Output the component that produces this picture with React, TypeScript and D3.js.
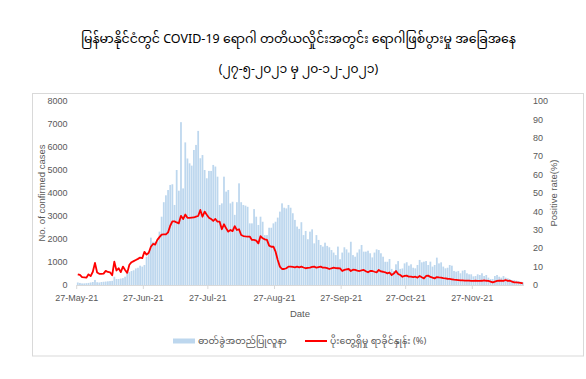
import React from "react";
import * as d3 from "d3";

const titleLine1 = "မြန်မာနိုင်ငံတွင် COVID-19 ရောဂါ တတိယလှိုင်းအတွင်း ရောဂါဖြစ်ပွားမှု အခြေအနေ";
const titleLine2 = "(၂၇-၅-၂၀၂၁ မှ ၂၀-၁၂-၂၀၂၁)";
const seriesNames = ["ဓာတ်ခွဲအတည်ပြုလူနာ", "ပိုးတွေ့ရှိမှု ရာခိုင်နှုန်း (%)"];
const leftAxisTitle = "No. of confirmed cases";
const rightAxisTitle = "Positive rate(%)";
const xAxisTitle = "Date";

const leftTicks = [0, 1000, 2000, 3000, 4000, 5000, 6000, 7000, 8000];
const rightTicks = [0, 10, 20, 30, 40, 50, 60, 70, 80, 90, 100];
const xTickLabels = ["27-May-21", "27-Jun-21", "27-Jul-21", "27-Aug-21", "27-Sep-21", "27-Oct-21", "27-Nov-21"];
const xTickMonths = [4, 5, 6, 7, 8, 9, 10];

const startDay = [2021, 4, 27];
const endDay = [2021, 11, 21];

// daily confirmed cases, 27 May 2021 .. 20 Dec 2021
const cases = [
  110, 90, 70, 70, 80, 90, 110, 130, 220, 120, 110, 130, 140, 150, 160, 170, 180, 360, 260, 260,
  280, 300, 360, 550, 560, 610, 640, 720, 750, 840, 800, 870,
  1230, 1450, 2060, 1880, 1880, 1900, 2320, 2970, 3600, 3900, 4130, 4350, 4380, 3480, 5000, 4100, 7080, 4200, 6200,
  5500, 5290, 5190, 5870, 6090, 6700, 5510, 5650, 5000, 4640, 4960, 4960, 5220, 5150, 4710, 3480, 3550, 4710, 4060, 4130,
  3550, 3620, 3050, 3600, 4420, 3600, 3480, 3450, 3400, 2680, 2680, 3300, 2970, 2610, 2970, 2750, 2170, 2170, 2490, 2490,
  2680, 2750, 2930, 3190, 3550, 3360, 3330, 3480, 3360, 3120, 2830, 2540, 2440, 2730,
  2170, 2350, 1990, 2320, 2420, 1810, 2170, 1960, 1740, 1670, 1840, 1700, 1640, 1520, 1410, 1300, 1670, 1120, 1410, 1640,
  1550, 1410, 1880, 1300, 1230, 1410, 1550, 1740, 1450, 1450, 1490, 1380, 1200, 1410, 1550, 1520, 1380, 1230, 1010, 1010, 1130,
  700, 610, 900, 1040, 700, 720, 940, 990, 840, 900,
  750, 725, 870, 1090, 985, 1015, 1040, 870, 1015, 800, 870, 1190, 940, 985, 800, 725, 750, 870, 840, 610,
  580, 610, 510, 625, 650, 510, 465, 465, 375, 390, 465, 435, 510, 390, 435, 320, 260, 260, 390, 435,
  360, 320, 390, 320, 290, 250, 215, 215, 190, 175, 145, 115,
];

// positive rate (%)
const positiveRate = [
  5.8, 5.5, 4.3, 4.2, 4.0, 5.8, 4.8, 7.2, 12.0, 6.8, 6.1, 6.1, 6.2, 7.7, 7.1, 6.9, 5.3, 12.7, 7.9, 9.1,
  7.0, 10.0, 8.2, 6.6, 11.0, 12.4, 13.0, 13.6, 14.2, 14.9, 14.6, 18.0, 16.5, 17.5, 20.8, 22.3, 22.0, 24.5, 26.0, 27.4,
  27.5, 27.5, 28.6, 32.2, 34.6, 34.6, 34.0, 33.5, 37.6, 35.8, 38.3, 36.5, 36.5, 36.6, 36.7, 37.2, 37.5, 40.8, 37.1, 39.9,
  38.2, 36.6, 35.9, 34.8, 35.9, 34.4, 34.4, 30.3, 33.0, 30.8, 29.0, 29.9, 29.3, 32.0, 29.9, 30.3, 27.2, 26.6, 26.4, 26.3,
  26.3, 24.5, 24.5, 24.1, 22.6, 26.6, 25.4, 24.8, 24.5, 21.4, 20.8, 20.8, 18.1, 13.6, 10.0, 8.7, 8.7, 9.1, 10.0, 10.0,
  9.8, 9.6, 10.0, 9.6, 10.0,
  9.5, 9.1, 9.3, 9.4, 9.8, 10.0, 9.4, 9.7, 10.0, 9.4,
  9.4, 9.2, 8.7, 9.1, 9.4, 9.2, 9.1, 9.0, 7.6, 8.2,
  8.5, 8.7, 7.6, 8.3, 8.2, 7.8, 7.6, 8.0, 8.2, 7.5,
  6.9, 7.6, 7.6, 7.2, 6.9, 8.2, 7.4, 7.2, 6.9, 6.3,
  6.8, 5.4, 6.2, 7.6, 6.0, 5.4, 4.5, 5.0, 5.1, 4.5,
  4.5, 4.3, 4.5, 4.0, 4.9, 4.2, 3.6, 4.9, 5.1, 4.4,
  4.0, 3.6, 4.3, 4.1, 4.0, 3.7, 3.6, 3.4, 3.3, 3.1,
  2.9, 2.8, 2.7, 2.5, 2.5, 2.4, 2.4, 2.4, 2.2, 2.2,
  2.3, 2.2, 2.2, 2.3, 2.5, 2.3, 2.2, 1.8, 1.4, 1.8,
  2.2, 2.4, 2.3, 2.2, 2.7, 2.2, 2.3, 1.8, 1.4, 1.4,
  1.3, 1.2, 0.9,
];

const DAY = 864e5;
const W = 586;
const H = 379;
const M = { left: 76.7, right: 523.9, top: 101, bottom: 285 };

const barColor = "#BDD7EE";
const lineColor = "#FF0000";
const textColor = "#595959";
const mmFont = "'Noto Sans Myanmar', 'Myanmar Text', Padauk, 'Noto Sans', 'DejaVu Sans', sans-serif";
const latFont = "'Liberation Sans', Arial, sans-serif";

export default function App() {
  const t0 = Date.UTC(startDay[0], startDay[1], startDay[2]);
  const t1 = Date.UTC(endDay[0], endDay[1], endDay[2]);
  const x = d3.scaleUtc().domain([new Date(t0), new Date(t1)]).range([M.left, M.right]);
  const yL = d3.scaleLinear().domain([0, 8000]).range([M.bottom, M.top]);
  const yR = d3.scaleLinear().domain([0, 100]).range([M.bottom, M.top]);
  const center = (i: number) => new Date(t0 + (i + 0.5) * DAY);
  const slot = x(new Date(t0 + DAY)) - x(new Date(t0));
  const barW = slot * 0.82;

  const line = d3
    .line<number>()
    .x((_, i) => x(center(i)))
    .y((v) => yR(v));

  const tickDates = xTickMonths.map((m) => new Date(Date.UTC(2021, m, 27)));
  const midY = (M.top + M.bottom) / 2;

  return (
    <div style={{ position: "absolute", left: 0, top: 0 }}>
      <svg width={W} height={H} style={{ display: "block", background: "#fff" }}>
        <rect x={0} y={0} width={W} height={H} fill="#fff" />
        <text x={298.5} y={43} textAnchor="middle" fontFamily={mmFont} fontSize={12.5} fill="#000">
          {titleLine1}
        </text>
        <text x={298.5} y={73} textAnchor="middle" fontFamily={mmFont} fontSize={12.3} fill="#000">
          {titleLine2}
        </text>
        <rect x={32.5} y={93.5} width={551} height={262.5} fill="none" stroke="#D9D9D9" strokeWidth={1} />

        {cases.map((v, i) => (
          <rect
            key={i}
            x={x(center(i)) - barW / 2}
            y={yL(v)}
            width={barW}
            height={yL(0) - yL(v)}
            fill={barColor}
          />
        ))}

        <line x1={M.left} x2={M.right} y1={M.bottom + 0.5} y2={M.bottom + 0.5} stroke="#D9D9D9" />
        {tickDates.map((d, i) => (
          <g key={i} transform={`translate(${x(d)},0)`}>
            <line y1={M.bottom} y2={M.bottom + 4} stroke="#D9D9D9" />
            <text y={300.5} textAnchor="middle" fontFamily={latFont} fontSize={9} fill={textColor}>
              {xTickLabels[i]}
            </text>
          </g>
        ))}

        <path d={line(positiveRate) || ""} fill="none" stroke={lineColor} strokeWidth={1.8} strokeLinejoin="round" />

        {leftTicks.map((v) => (
          <text key={v} x={67.5} y={yL(v) + 3.2} textAnchor="end" fontFamily={latFont} fontSize={9} fill={textColor}>
            {v}
          </text>
        ))}
        {rightTicks.map((v) => (
          <text key={v} x={533} y={yR(v) + 3.2} textAnchor="start" fontFamily={latFont} fontSize={9} fill={textColor}>
            {v}
          </text>
        ))}

        <text
          transform={`translate(45,${midY}) rotate(-90)`}
          textAnchor="middle"
          fontFamily={latFont}
          fontSize={9.5}
          fill={textColor}
        >
          {leftAxisTitle}
        </text>
        <text
          transform={`translate(557,${midY}) rotate(-90)`}
          textAnchor="middle"
          fontFamily={latFont}
          fontSize={9.5}
          fill={textColor}
        >
          {rightAxisTitle}
        </text>
        <text x={300} y={316.5} textAnchor="middle" fontFamily={latFont} fontSize={9.5} fill={textColor}>
          {xAxisTitle}
        </text>

        <rect x={173} y={338.5} width={22} height={5} fill={barColor} />
        <text x={198} y={344} fontFamily={mmFont} fontSize={9.3} fill={textColor}>
          {seriesNames[0]}
        </text>
        <line x1={305} x2={327} y1={341} y2={341} stroke={lineColor} strokeWidth={2} />
        <text x={330} y={344} fontFamily={mmFont} fontSize={9.3} fill={textColor}>
          {seriesNames[1]}
        </text>
      </svg>
    </div>
  );
}
